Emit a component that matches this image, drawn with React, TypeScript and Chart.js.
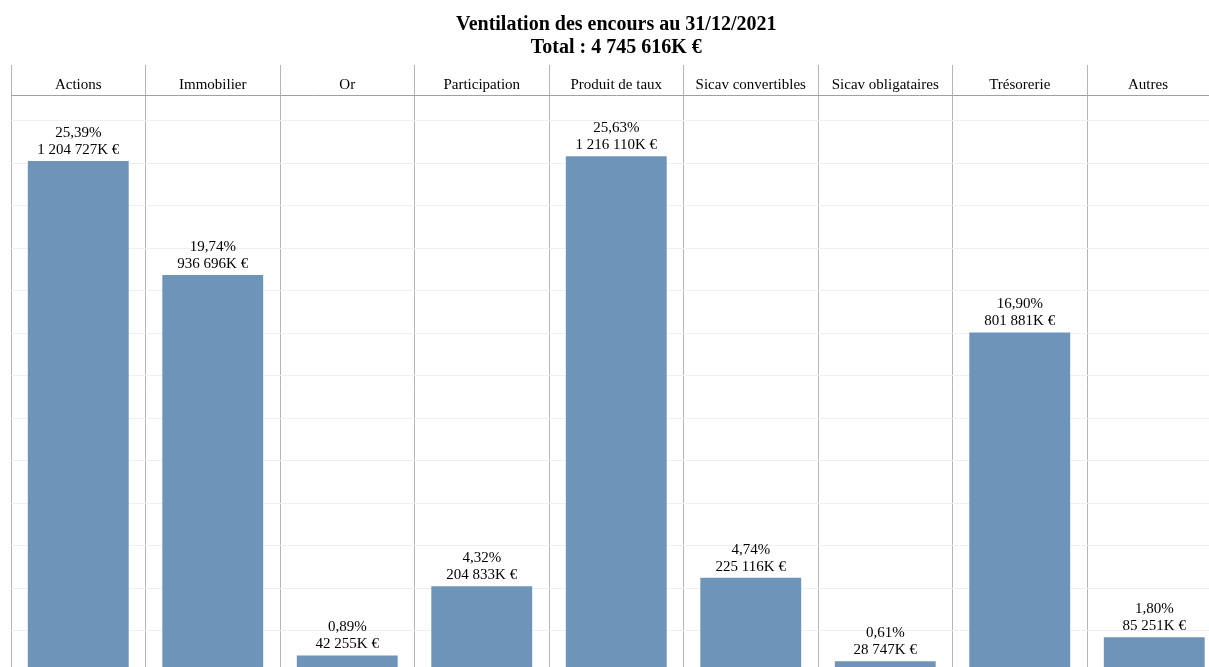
import React, { useEffect, useRef } from "react";
import { Chart, registerables } from "chart.js";

Chart.register(...registerables);

const categories = [
  "Actions",
  "Immobilier",
  "Or",
  "Participation",
  "Produit de taux",
  "Sicav convertibles",
  "Sicav obligataires",
  "Trésorerie",
  "Autres",
];
const valuesK = [1204727, 936696, 42255, 204833, 1216110, 225116, 28747, 801881, 85251];
const percents = ["25,39%", "19,74%", "0,89%", "4,32%", "25,63%", "4,74%", "0,61%", "16,90%", "1,80%"];
const titleLines = ["Ventilation des encours au 31/12/2021", "Total : 4 745 616K €"];
const gridValues = [0, 100000, 200000, 300000, 400000, 500000, 600000, 700000, 800000, 900000, 1000000, 1100000, 1200000, 1300000];

const FONT = "'Liberation Serif', 'Times New Roman', serif";
const VIEW_W = 1209;

function fmtK(v: number): string {
  return String(v).replace(/\B(?=(\d{3})+(?!\d))/g, " ") + "K €";
}

const labelPlugin = {
  id: "barLabels",
  afterDatasetsDraw(chart: any) {
    const ctx = chart.ctx;
    const meta = chart.getDatasetMeta(0);
    const xScale = chart.scales.x;
    const top = chart.chartArea.top;
    ctx.save();
    ctx.font = `15px ${FONT}`;
    ctx.fillStyle = "#000";
    ctx.textAlign = "center";
    ctx.textBaseline = "middle";
    // header labels, centred on the visible part of each category column
    const n = categories.length;
    categories.forEach((c, i) => {
      const mid = xScale.getPixelForValue(i);
      const half = (xScale.right - xScale.left) / n / 2;
      const left = mid - half;
      const right = Math.min(mid + half, VIEW_W);
      ctx.fillText(c, (left + right) / 2, top - 9.5);
    });
    meta.data.forEach((bar: any, i: number) => {
      const x = bar.x;
      const y = bar.y;
      ctx.fillText(percents[i], x, y - 28);
      ctx.fillText(fmtK(valuesK[i]), x, y - 11);
    });
    ctx.restore();
  },
};

export default function App() {
  const ref = useRef<HTMLCanvasElement | null>(null);
  useEffect(() => {
    if (!ref.current) return;
    const chart = new Chart(ref.current, {
      type: "bar",
      data: {
        labels: categories,
        datasets: [
          {
            data: valuesK,
            backgroundColor: "#6f94b9",
            borderWidth: 0,
            categoryPercentage: 0.75,
            barPercentage: 1,
          },
        ],
      },
      options: {
        animation: false,
        responsive: false,
        devicePixelRatio: 1,
        layout: { padding: { left: 11, right: 3.5, top: 0, bottom: 6.5 } },
        plugins: {
          legend: { display: false },
          tooltip: { enabled: false },
          title: {
            display: true,
            text: titleLines,
            color: "#000",
            font: { family: FONT, size: 20, weight: "bold", lineHeight: 1.15 },
            padding: { top: 13.5, bottom: 5.5 },
          },
        },
        scales: {
          x: {
            position: "top",
            grid: {
              offset: true,
              color: "#b4b4b4",
              tickLength: 30,
              drawTicks: true,
              drawOnChartArea: true,
            },
            border: { display: true, color: "#a0a0a0" },
            ticks: { display: false, autoSkip: false },
          },
          y: {
            min: 0,
            max: 1360000,
            ticks: { display: false },
            afterBuildTicks: (scale: any) => {
              scale.ticks = gridValues.map((v) => ({ value: v }));
            },
            grid: { color: "#efefef", drawTicks: false },
            border: { display: false },
          },
        },
      },
      plugins: [labelPlugin],
    });
    return () => chart.destroy();
  }, []);
  return (
    <div
      style={{
        position: "fixed",
        left: 0,
        top: 0,
        width: VIEW_W,
        height: 667,
        overflow: "hidden",
        background: "#fff",
      }}
    >
      <canvas ref={ref} width={1225} height={680} style={{ display: "block" }} />
    </div>
  );
}
